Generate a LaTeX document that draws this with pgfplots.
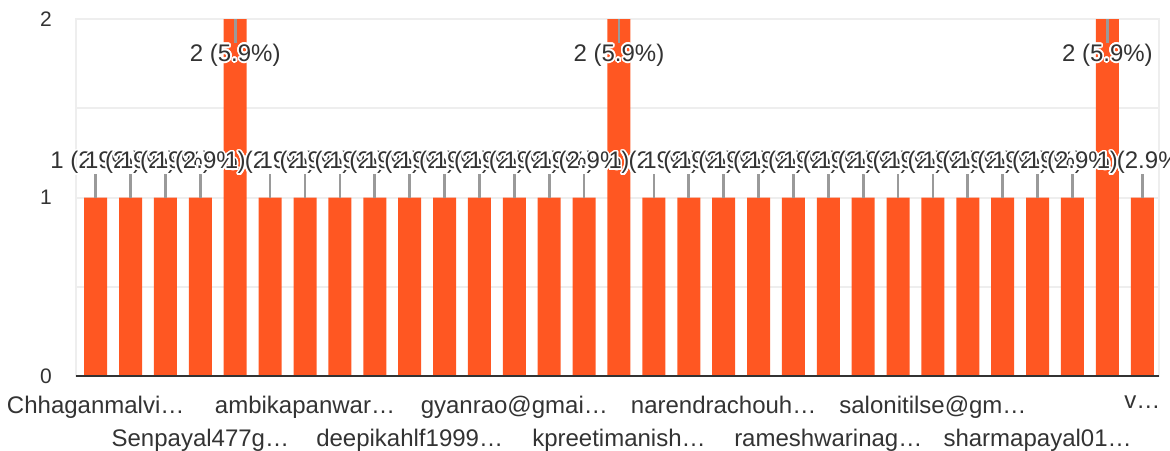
\documentclass[border=0pt]{standalone}
\usepackage{pgfplots}
\pgfplotsset{compat=1.18}
\usepackage{fontspec}
\setmainfont{Liberation Sans}
\usepackage{contour}
\contourlength{1.6pt}
\contournumber{24}
\definecolor{barc}{HTML}{FF5722}
\definecolor{txt}{HTML}{333333}
\definecolor{gridc}{HTML}{EEEEEE}
\definecolor{lead}{HTML}{9A9A9A}
\definecolor{axisc}{HTML}{333333}
\begin{document}
\begin{tikzpicture}
\useasboundingbox (-76pt,-74pt) rectangle (1094pt,376pt);
\begin{axis}[
  scale only axis, width=1083pt, height=357pt,
  xmin=-0.565, xmax=30.48, ymin=0, ymax=2,
  ytick={0,1,2}, minor ytick={0.5,1.5}, ymajorgrids, yminorgrids,
  major grid style={draw=gridc, line width=2pt},
  minor grid style={draw=gridc, line width=2pt},
  axis line style={draw=gridc, line width=2pt},
  tick style={draw=none}, major tick length=0pt, minor tick length=0pt,
  xtick={0,6,12,18,24,30},
  xticklabels={Chhaganmalvi…, ambikapanwar…, gyanrao@gmai…, narendrachouh…, salonitilse@gm…, v…},
  extra x ticks={3,9,15,21,27},
  extra x tick labels={Senpayal477g…, deepikahlf1999…, kpreetimanish…, rameshwarinag…, sharmapayal01…},
  extra x tick style={xticklabel style={yshift=-33pt}},
  xticklabel style={font=\fontsize{24}{28}\selectfont, text=txt, anchor=north, inner sep=0pt, yshift=-20pt},
  yticklabel style={font=\fontsize{21}{25}\selectfont, text=txt, anchor=east, inner sep=0pt, xshift=-24pt},
  /pgf/number format/assume math mode=true,
]
% bars
\addplot[ybar, bar width=23pt, fill=barc, draw=none] coordinates {
(0,1)(1,1)(2,1)(3,1)(4,2)(5,1)(6,1)(7,1)(8,1)(9,1)(10,1)(11,1)(12,1)(13,1)(14,1)
(15,2)(16,1)(17,1)(18,1)(19,1)(20,1)(21,1)(22,1)(23,1)(24,1)(25,1)(26,1)(27,1)(28,1)
(29,2)(30,1)};
% leader lines, value 1
\addplot[draw=none, mark=none, error bars/.cd, y dir=plus, y explicit, error mark=none,
  error bar style={line width=2.7pt, draw=lead}] coordinates {
(0,1) +- (0,0.134) (1,1) +- (0,0.134) (2,1) +- (0,0.134) (3,1) +- (0,0.134)
(5,1) +- (0,0.134) (6,1) +- (0,0.134) (7,1) +- (0,0.134) (8,1) +- (0,0.134)
(9,1) +- (0,0.134) (10,1) +- (0,0.134) (11,1) +- (0,0.134) (12,1) +- (0,0.134)
(13,1) +- (0,0.134) (14,1) +- (0,0.134) (16,1) +- (0,0.134) (17,1) +- (0,0.134)
(18,1) +- (0,0.134) (19,1) +- (0,0.134) (20,1) +- (0,0.134) (21,1) +- (0,0.134)
(22,1) +- (0,0.134) (23,1) +- (0,0.134) (24,1) +- (0,0.134) (25,1) +- (0,0.134)
(26,1) +- (0,0.134) (27,1) +- (0,0.134) (28,1) +- (0,0.134) (30,1) +- (0,0.134)};
% leader lines, value 2
\addplot[draw=none, mark=none, error bars/.cd, y dir=minus, y explicit, error mark=none,
  error bar style={line width=2.7pt, draw=lead}] coordinates {
(4,2) +- (0,0.134) (15,2) +- (0,0.134) (29,2) +- (0,0.134)};
% labels, value 1
\addplot[draw=none, mark=none, nodes near coords={\contour{white}{1 (2.9\%)}},
  every node near coord/.append style={anchor=center, yshift=34pt, font=\fontsize{24}{28}\selectfont, text=txt, inner sep=0pt}] coordinates {
(0,1)(1,1)(2,1)(3,1)(5,1)(6,1)(7,1)(8,1)(9,1)(10,1)(11,1)(12,1)(13,1)(14,1)
(16,1)(17,1)(18,1)(19,1)(20,1)(21,1)(22,1)(23,1)(24,1)(25,1)(26,1)(27,1)(28,1)(30,1)};
% labels, value 2
\addplot[draw=none, mark=none, nodes near coords={\contour{white}{2 (5.9\%)}},
  every node near coord/.append style={anchor=center, yshift=-37pt, font=\fontsize{24}{28}\selectfont, text=txt, inner sep=0pt}] coordinates {
(4,2)(15,2)(29,2)};
\draw[line width=3pt, draw=axisc] (rel axis cs:0,0) -- (rel axis cs:1,0);
\end{axis}
\end{tikzpicture}
\end{document}
